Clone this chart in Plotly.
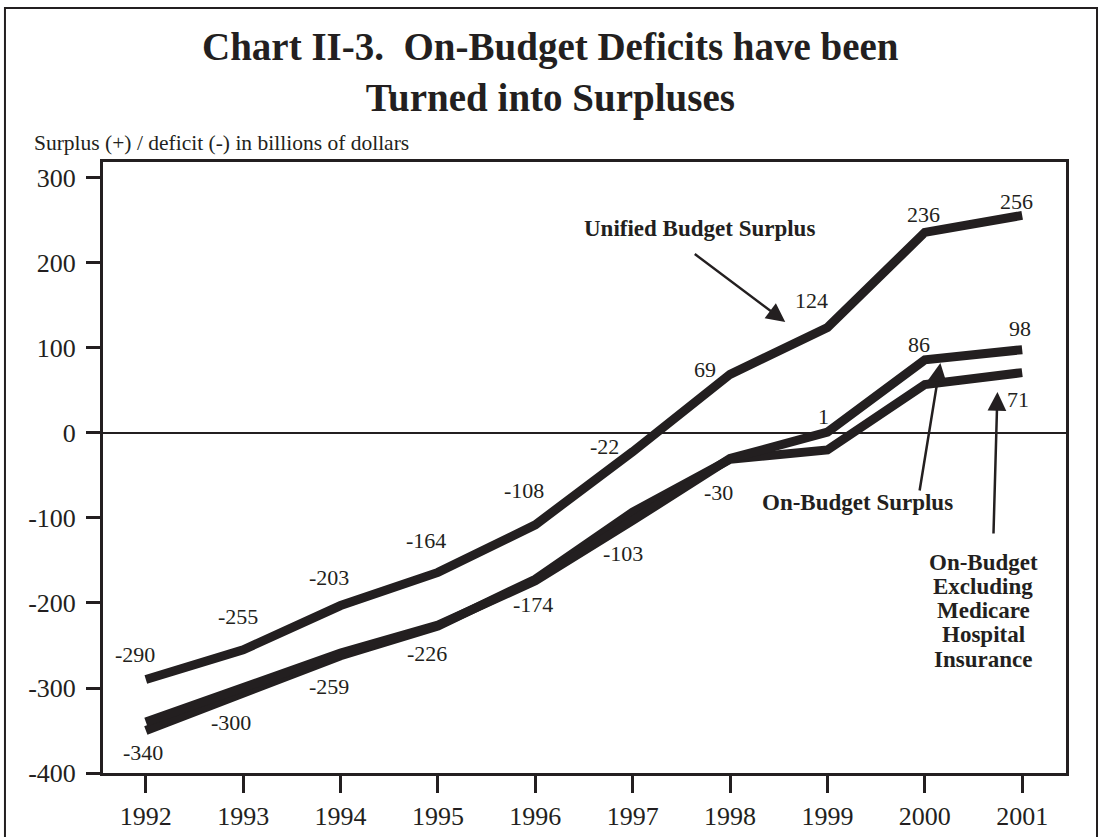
import plotly.graph_objects as go

# Fiscal years shown on the horizontal axis
years = [1992, 1993, 1994, 1995, 1996, 1997, 1998, 1999, 2000, 2001]

# Surplus (+) / deficit (-), billions of dollars
unified_surplus = [-290, -255, -203, -164, -108, -22, 69, 124, 236, 256]
on_budget_surplus = [-340, -300, -259, -226, -174, -103, -30, 1, 86, 98]
on_budget_excl_hi = [-350, -305, -262, -227, -172, -93, -31, -20, 57, 71]

y_ticks = [-400, -300, -200, -100, 0, 100, 200, 300]
y_tick_text = ["-400", "-300", "-200", "-100", "0", "100", "200", "300"]

excl_caption_lines = ["On-Budget", "Excluding", "Medicare", "Hospital", "Insurance"]

INK = "#231f20"
SERIF = "Liberation Serif, Times New Roman, serif"

# Offsets (px) of each value label from its point: (xshift, yshift)
unified_label_shift = [(-11, 25), (-5, 33), (-12, 28), (-12, 32), (-11, 34),
                       (-28, 5), (-25, 5), (-16, 27), (-1, 18), (-6, 14)]
on_budget_label_shift = [(-3, -30), (-12, -34), (-12, -33), (-11, -28), (-2, -24),
                         (-10, -33), (-12, -34), (-4, 16), (-6, 15), (-2, 21)]

fig = go.Figure()

for series in (on_budget_excl_hi, on_budget_surplus, unified_surplus):
    fig.add_trace(go.Scatter(
        x=years, y=series, mode="lines",
        line=dict(color=INK, width=9),
        hoverinfo="skip", showlegend=False,
    ))

annotations = []


def value_label(x, y, shift):
    annotations.append(dict(
        x=x, y=y, xref="x", yref="y", text=f"{y}", showarrow=False,
        xshift=shift[0], yshift=shift[1],
        font=dict(family=SERIF, size=22, color=INK),
    ))


for yr, v, s in zip(years, unified_surplus, unified_label_shift):
    value_label(yr, v, s)
for yr, v, s in zip(years, on_budget_surplus, on_budget_label_shift):
    value_label(yr, v, s)
# only the final year of the HI-excluded series is labelled
value_label(years[-1], on_budget_excl_hi[-1], (-4, -27))

bold = dict(family=SERIF, size=23, color=INK)

# Series captions
annotations += [
    dict(x=1997.69, y=241, xref="x", yref="y", text="<b>Unified Budget Surplus</b>",
         showarrow=False, font=bold),
    dict(x=1999.31, y=-82, xref="x", yref="y", text="<b>On-Budget Surplus</b>",
         showarrow=False, font=bold),
]
# multi-line caption set line by line for tighter leading
for i, line in enumerate(excl_caption_lines):
    annotations.append(dict(
        x=2000.60, y=-151.8, xref="x", yref="y", yshift=-24.3 * i,
        text=f"<b>{line}</b>", showarrow=False, font=bold,
    ))

# Pointer arrows from captions to their lines
arrow_style = dict(showarrow=True, arrowhead=2, arrowsize=1.5, arrowwidth=2.5,
                   arrowcolor=INK, text="", xref="x", yref="y", standoff=0)
annotations += [
    dict(x=1998.567, y=130.6, ax=-92, ay=-69, **arrow_style),
    dict(x=2000.16, y=82.4, ax=-21, ay=129, **arrow_style),
    dict(x=2000.746, y=48.2, ax=-4, ay=143, **arrow_style),
]

# Chart title and unit note
annotations += [
    dict(x=0.4652, y=1.146, xref="paper", yref="paper", xanchor="center", yanchor="middle",
         text="<b>Chart II-3.  On-Budget Deficits have been<br>Turned into Surpluses</b>",
         showarrow=False, font=dict(family=SERIF, size=39, color=INK), align="center"),
    dict(x=-0.0737, y=1.031, xref="paper", yref="paper", xanchor="left", yanchor="middle",
         text="Surplus (+) / deficit (-) in billions of dollars",
         showarrow=False, font=dict(family=SERIF, size=21.5, color=INK)),
]

fig.update_layout(
    width=1102, height=837,
    margin=dict(l=103, r=36, t=162, b=64),
    paper_bgcolor="white", plot_bgcolor="white",
    annotations=annotations,
    shapes=[dict(type="rect", xref="paper", yref="paper",
                 x0=-0.1018, x1=1.0322, y0=-0.2, y1=1.252,
                 line=dict(color=INK, width=2), layer="below")],
    showlegend=False,
)

fig.update_xaxes(
    range=[1991.56, 2001.45], tickvals=years, ticktext=[str(y) for y in years],
    showgrid=False, zeroline=False, automargin=False,
    showline=True, linecolor=INK, linewidth=3, mirror=True,
    ticks="outside", ticklen=17, tickwidth=2.5, tickcolor=INK,
    ticklabelstandoff=1,
    tickfont=dict(family=SERIF, size=26, color=INK),
)
fig.update_yaxes(
    range=[-400, 318.8], tickvals=y_ticks, ticktext=y_tick_text,
    showgrid=False, zeroline=True, zerolinecolor=INK, zerolinewidth=2,
    automargin=False,
    showline=True, linecolor=INK, linewidth=3, mirror=True,
    ticks="outside", ticklen=14, tickwidth=2.5, tickcolor=INK,
    ticklabelstandoff=5,
    tickfont=dict(family=SERIF, size=26, color=INK),
)

fig.write_html("out.html")
